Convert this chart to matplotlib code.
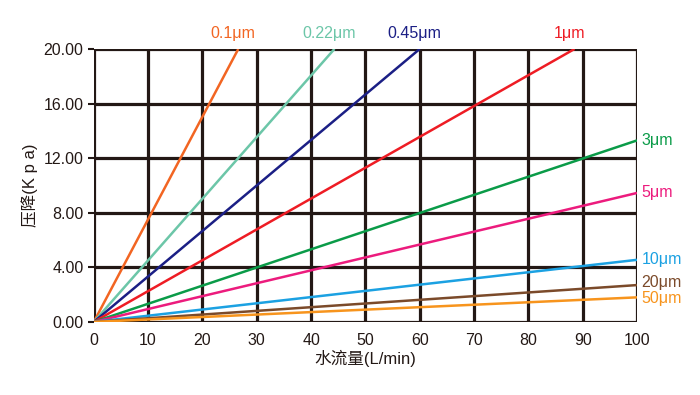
import matplotlib
matplotlib.use("Agg")
import matplotlib.pyplot as plt

plt.rcParams['font.family'] = ['Liberation Sans', 'Noto Sans CJK SC', 'DejaVu Sans']

# membrane pore sizes and their end points (flow L/min, pressure drop Kpa)
labels = ["0.1μm", "0.22μm", "0.45μm", "1μm", "3μm", "5μm", "10μm", "20μm", "50μm"]
end_flow = [26.6, 44.3, 60.0, 88.5, 100, 100, 100, 100, 100]
end_drop = [20.0, 20.0, 20.0, 20.0, 13.3, 9.45, 4.55, 2.7, 1.8]
colors = ["#f26522", "#6cc6a8", "#1b1f85", "#ee1c24", "#0a9b48",
          "#ec1b7d", "#1ba1e2", "#7b4a2a", "#f7941d"]

x_ticks = list(range(0, 101, 10))
y_ticks = [0, 4, 8, 12, 16, 20]

fig = plt.figure(figsize=(7, 3.95), dpi=100)
ax = fig.add_axes([0.134, 0.185, 0.776, 0.691])

grid_col = "#231815"
for xv in x_ticks:
    ax.axvline(xv, color=grid_col, lw=2.3, zorder=1)
for yv in y_ticks:
    ax.axhline(yv, color=grid_col, lw=2.3, zorder=1)

# small nudges so the two lowest labels sit like the original
nudge = {"20μm": 0.2, "50μm": -0.1}
for lab, fx, fy, c in zip(labels, end_flow, end_drop, colors):
    ax.plot([0, fx], [0, fy], color=c, lw=1.8, zorder=3, solid_capstyle='butt')
    if fy >= 20:
        ax.text(fx - 1, 20.55, lab, color=c, fontsize=11.5, ha='center', va='bottom')
    else:
        ax.text(100.8, fy + nudge.get(lab, 0), lab, color=c, fontsize=11.5,
                ha='left', va='center')

ax.set_xlim(0, 100)
ax.set_ylim(0, 20)
ax.set_xticks(x_ticks)
ax.set_yticks(y_ticks)
ax.set_yticklabels([f"{v:.2f}" for v in y_ticks])
for s in ax.spines.values():
    s.set_visible(False)
ax.tick_params(axis='both', labelsize=11.5, colors=grid_col, length=4, width=1.5)
ax.tick_params(axis='x', length=0, pad=8)
ax.set_xlabel("水流量(L/min)", fontsize=12, color=grid_col, labelpad=1)
ax.set_ylabel("压降(K p a)", fontsize=12, color=grid_col, labelpad=4)

fig.savefig("out.png", dpi=100)
